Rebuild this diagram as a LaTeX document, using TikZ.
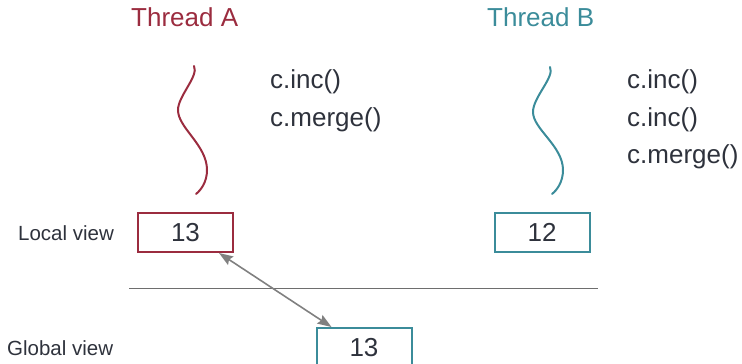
\documentclass[tikz,border=0pt]{standalone}
\usepackage{fontspec}
\setmainfont{Liberation Sans}
\usetikzlibrary{arrows.meta,calc}
\definecolor{thrA}{HTML}{9B2C3F}
\definecolor{thrB}{HTML}{3B8C9A}
\definecolor{txt}{HTML}{2E323C}
\definecolor{sepc}{HTML}{6E6E6E}
\definecolor{arrc}{HTML}{808080}
\begin{document}
\begin{tikzpicture}[x=1pt,y=-1pt,
  big/.style={font=\fontsize{26}{31}\selectfont},
  small/.style={font=\fontsize{20.5}{25}\selectfont},
  lbl/.style={inner sep=0pt, anchor=base west, text=txt},
  valbox/.style={draw, line width=2pt, minimum width=95pt, minimum height=39pt, inner sep=0pt, text=txt, big},
  thread/.style={line width=2pt, line cap=round},
  conn/.style={arrc, line width=1.6pt, {Stealth[length=14pt,width=10pt,inset=2pt]}-{Stealth[length=14pt,width=10pt,inset=2pt]}}
]
\useasboundingbox (0,0) rectangle (742,364);

% thread titles
\node[lbl, big, text=thrA] (ta) at (131,27) {Thread A};
\node[lbl, big, text=thrB] (tb) at (487,27) {Thread B};

% thread wavy lines
\draw[thread, thrA] (194,66) .. controls (199,76) and (178,96) .. (178,110)
  .. controls (178,128) and (207,145) .. (207,170)
  .. controls (207,182) and (201,190) .. (196,194);
\draw[thread, thrB] (550,67) .. controls (555,77) and (533,97) .. (533,112)
  .. controls (533,129) and (563,146) .. (563,170)
  .. controls (563,182) and (557,190) .. (552,194);

% operations
\node[lbl, big] (a1) at (270,88) {c.inc()};
\node[lbl, big] (a2) at (270,126) {c.merge()};
\node[lbl, big] (b1) at (627,88) {c.inc()};
\node[lbl, big] (b2) at (627,126) {c.inc()};
\node[lbl, big] (b3) at (627,163) {c.merge()};

% view labels
\node[lbl, small] (lv) at (18,240) {Local view};
\node[lbl, small] (gv) at (7,355) {Global view};

% boxes
\node[valbox, draw=thrA] (la) at (185.5,232.5) {13};
\node[valbox, draw=thrB] (lb) at (542,232.5) {12};
\node[valbox, draw=thrB] (gl) at (364,347.5) {13};

% separator
\coordinate (s1) at (129,288.5);
\coordinate (s2) at (598,288.5);
\draw[sepc, line width=1.2pt] (s1) -- (s2);

% arrow
\draw[conn] ([xshift=-15pt]la.south east) -- ([xshift=16pt]gl.north west);
\end{tikzpicture}
\end{document}
